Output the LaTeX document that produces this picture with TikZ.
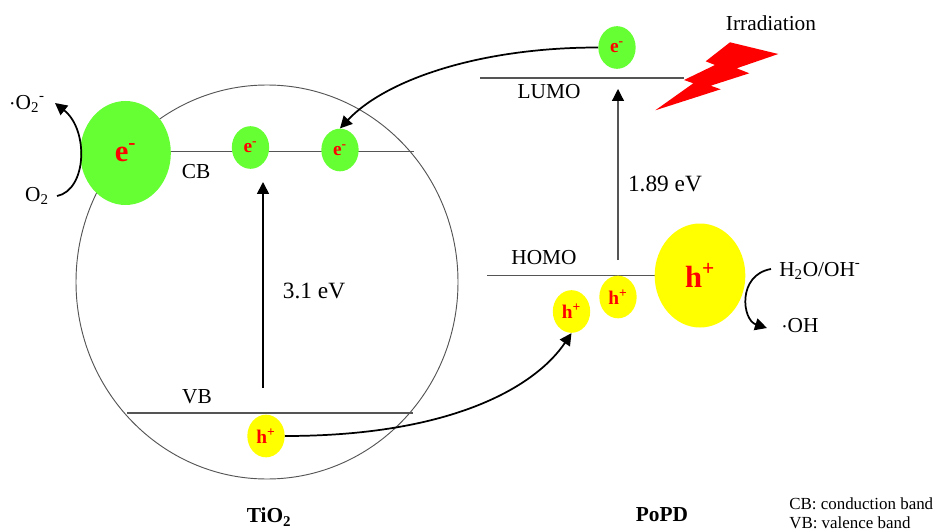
\documentclass[tikz,border=0pt]{standalone}
\usepackage{fontspec}
\setmainfont{Liberation Serif}
\usetikzlibrary{arrows.meta,shapes.geometric}
\usepackage{xcolor}
\definecolor{elec}{HTML}{66FF33}
\definecolor{hole}{HTML}{FFFF00}
\definecolor{charge}{HTML}{FF0000}
\definecolor{level}{HTML}{555555}
\tikzset{
  >={Triangle[length=9pt,width=9pt]},
  every node/.style={font=\fontsize{16}{18}\selectfont,text=black,inner sep=0pt},
  particle/.style={ellipse,minimum width=28pt,minimum height=32pt,text=charge,font=\fontsize{14.5}{16}\selectfont\bfseries},
  bigparticle/.style={particle,minimum width=68pt,minimum height=78pt,font=\fontsize{23}{26}\selectfont\bfseries},
  ebox/.style={particle,fill=elec},
  hbox/.style={particle,fill=hole},
  bigebox/.style={bigparticle,fill=elec},
  bighbox/.style={bigparticle,fill=hole},
  bandline/.style={draw=level,line width=.8pt},
  arrow/.style={->,line width=1.3pt,draw=black},
  thinarr/.style={-{Triangle[length=9pt,width=9pt,color=black]},line width=.9pt,draw=level},
  gaplabel/.style={font=\fontsize{17.5}{20}\selectfont},
  legend/.style={font=\fontsize{12.7}{15}\selectfont,anchor=west},
  title/.style={font=\fontsize{16}{18}\selectfont\bfseries},
}
\begin{document}
\begin{tikzpicture}[x=.75pt,y=-.75pt]
\useasboundingbox (0,0) rectangle (935,531);
\node[ellipse,draw=level,line width=.7pt,minimum width=286.5pt,minimum height=295.5pt] (tio2) at (267,282) {};

\coordinate (cbl) at (171,151.5);
\coordinate (cbr) at (414,151.5);
\coordinate (vbl) at (127,413);
\coordinate (vbr) at (413,413);
\coordinate (lumol) at (480,78);
\coordinate (lumor) at (684,78);
\coordinate (homol) at (487,275.5);
\coordinate (homor) at (655,275.5);
\draw[bandline] (cbl) -- (cbr);
\draw[bandline] (vbl) -- (vbr);
\draw[bandline] (lumol) -- (lumor);
\draw[bandline] (homol) -- (homor);

\node[bigebox] (ebig) at (125.5,153) {e\textsuperscript{-}};
\node[ebox] (ecb) at (250.5,147.5) {e\textsuperscript{-}};
\node[ebox] (ecb2) at (340,150) {e\textsuperscript{-}};
\node[ebox] (elumo) at (617,47.5) {e\textsuperscript{-}};
\node[hbox] (hvb) at (266,436) {h\textsuperscript{+}};
\node[hbox] (hhomo) at (571.5,311.5) {h\textsuperscript{+}};
\node[hbox] (hhomo2) at (618,297) {h\textsuperscript{+}};
\node[bighbox] (hbig) at (700,275.5) {h\textsuperscript{+}};

\fill[charge] (730,42.3) -- (778.3,54) -- (736.7,68.3) -- (749.3,73.3) -- (710.7,85.7) -- (720.7,89.3) -- (655.3,110.3) -- (693.3,83.3) -- (684,80) -- (715,65) -- (705.7,61.3) -- cycle;

\node (cb) at (196,172) {CB};
\node (vb) at (197,397) {VB};
\node (lumo) at (549,92) {LUMO};
\node (homo) at (544,258) {HOMO};
\node[gaplabel] (gap) at (314,291) {3.1 eV};
\node[gaplabel] (gap2) at (665,184) {1.89 eV};
\node (irr) at (771,23) {Irradiation};
\node (o2) at (37,196) {O\textsubscript{2}};
\node (o2rad) at (27,104) {$\cdot$O\textsubscript{2}\textsuperscript{-}};
\node[anchor=west] (water) at (779,271) {H\textsubscript{2}O/OH\textsuperscript{-}};
\node[anchor=west] (oh) at (781,326) {$\cdot$OH};
\node[title] (ti) at (269,517) {TiO\textsubscript{2}};
\node[title] (popd) at (662,515) {PoPD};
\node[legend] (leg1) at (789,504) {CB: conduction band};
\node[legend] (leg2) at (789,523) {VB: valence band};

\coordinate (gapfoot) at (263,388);
\coordinate (gaptip) at (263,182);
\coordinate (gap2foot) at (618,260);
\coordinate (gap2tip) at (618,89);
\draw[arrow] (gapfoot) -- (gaptip);
\draw[thinarr] (gap2foot) -- (gap2tip);
\draw[arrow] (elumo.west) .. controls +(-120,0) and +(45,-48) .. (ecb2.north);
\draw[arrow] (hvb.east) .. controls +(170,0) and +(-35,52) .. (hhomo.south);
\coordinate (o2start) at (57,196);
\coordinate (o2end) at (55,103);
\draw[arrow] (o2start) .. controls (87,190) and (89,130) .. (o2end);
\coordinate (wstart) at (771,269);
\coordinate (wend) at (767,328);
\draw[arrow] (wstart) .. controls (737,275) and (742,320) .. (wend);
\end{tikzpicture}
\end{document}
